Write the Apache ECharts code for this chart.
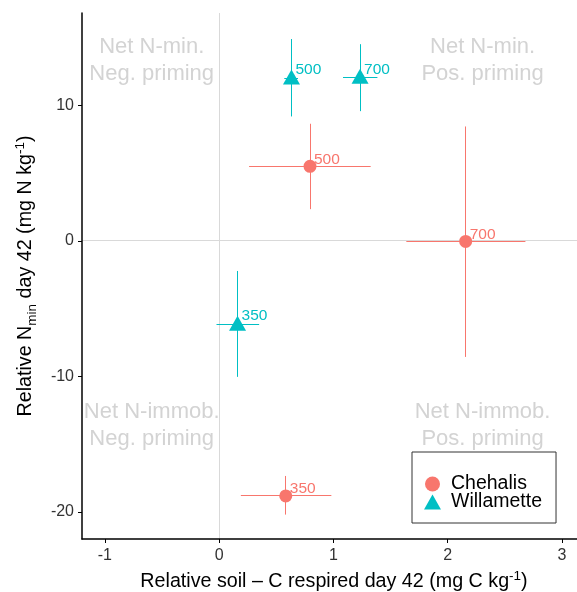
<!DOCTYPE html>
<html>
<head>
<meta charset="utf-8">
<title>Relative N-min vs soil C respired</title>
<script src="https://cdn.jsdelivr.net/npm/echarts@6/dist/echarts.min.js"></script>
<style>
  html, body { margin: 0; padding: 0; background: #fff; }
  #main { width: 577px; height: 592px; }
</style>
</head>
<body>
<div id="main"></div>
<script>
// temperature levels shown next to each point
var levels = ['350', '500', '700'];

// Chehalis soil
var chehalisX = [0.583, 0.795, 2.157];
var chehalisY = [-18.82, 5.49, -0.05];
var chehalisXLo = [0.19, 0.262, 1.638];
var chehalisXHi = [0.982, 1.326, 2.68];
var chehalisYLo = [-20.2, 2.33, -8.57];
var chehalisYHi = [-17.35, 8.63, 8.43];

// Willamette soil
var willametteX = [0.161, 0.633, 1.233];
var willametteY = [-6.15, 12.0, 12.06];
var willametteXLo = [-0.023, 0.57, 1.084];
var willametteXHi = [0.35, 0.69, 1.385];
var willametteYLo = [-10.04, 9.17, 9.56];
var willametteYHi = [-2.23, 14.88, 14.5];

// axis ticks
var xTicks = [-1, 0, 1, 2, 3];
var yTicks = [-20, -10, 0, 10];

// quadrant notes
var quadText = ['Net N-min.\nNeg. priming', 'Net N-min.\nPos. priming',
                'Net N-immob.\nNeg. priming', 'Net N-immob.\nPos. priming'];
var quadX = [-0.59, 2.305, -0.59, 2.305];
var quadY = [13.32, 13.32, -13.66, -13.66];

var RED = '#F8766D';
var CYAN = '#00BFC4';
var FONT = '"Liberation Sans", Arial, sans-serif';

function errRows(x, y, xlo, xhi, ylo, yhi) {
    return x.map(function (v, i) { return [v, y[i], xlo[i], xhi[i], ylo[i], yhi[i]]; });
}

function points(x, y) {
    return x.map(function (v, i) { return [v, y[i], levels[i]]; });
}

// keep 1px lines on the pixel grid so they stay crisp
function snap(v) { return Math.round(v - 0.5) + 0.5; }

// cross-shaped error bars, no caps
function renderErr(color) {
    return function (params, api) {
        var c = api.coord([api.value(0), api.value(1)]);
        var l = api.coord([api.value(2), api.value(1)]);
        var r = api.coord([api.value(3), api.value(1)]);
        var b = api.coord([api.value(0), api.value(4)]);
        var t = api.coord([api.value(0), api.value(5)]);
        var cx = snap(c[0]), cy = snap(c[1]);
        var style = { stroke: color, lineWidth: 1, fill: null };
        return {
            type: 'group',
            children: [
                { type: 'line', shape: { x1: l[0], y1: cy, x2: r[0], y2: cy }, style: style },
                { type: 'line', shape: { x1: cx, y1: b[1], x2: cx, y2: t[1] }, style: style }
            ]
        };
    };
}

// grey x = 0 / y = 0 reference lines across the panel
function renderZero(params, api) {
    var cs = params.coordSys;
    var o = api.coord([api.value(0), api.value(1)]);
    var ox = snap(o[0]), oy = snap(o[1]);
    var style = { stroke: '#D9D9D9', lineWidth: 1, fill: null };
    return {
        type: 'group',
        children: [
            { type: 'line', shape: { x1: ox, y1: cs.y, x2: ox, y2: cs.y + cs.height }, style: style },
            { type: 'line', shape: { x1: cs.x, y1: oy, x2: cs.x + cs.width, y2: oy }, style: style }
        ]
    };
}

var chart = echarts.init(document.getElementById('main'));

var titleRich = {
    sub: { fontSize: 13.5, lineHeight: 13, verticalAlign: 'bottom', color: '#000', fontFamily: FONT },
    sup: { fontSize: 13.5, lineHeight: 13, verticalAlign: 'top', color: '#000', fontFamily: FONT }
};

var option = {
    animation: false,
    // panel runs a little past the right edge of the picture (cropped original)
    grid: { left: 82, top: 13, bottom: 53, right: -9, outerBoundsMode: 'none', containLabel: false },
    xAxis: {
        type: 'value',
        min: -1.2,
        max: 3.21,
        name: 'Relative soil \u2013 C respired day 42 (mg C kg{sup|-1})',
        nameLocation: 'middle',
        nameGap: 30,
        nameTextStyle: { fontSize: 19.7, lineHeight: 26, color: '#000', fontFamily: FONT, rich: titleRich },
        axisLine: { onZero: false, lineStyle: { color: '#000', width: 1.5 } },
        axisTick: { length: 4, lineStyle: { color: '#000' }, customValues: xTicks },
        axisLabel: { fontSize: 16, color: '#333', margin: 9, fontFamily: FONT, customValues: xTicks },
        splitLine: { show: false }
    },
    yAxis: {
        type: 'value',
        min: -22,
        max: 16.8,
        name: 'Relative N{sub|min} day 42 (mg N kg{sup|-1})',
        nameLocation: 'middle',
        nameGap: 43,
        nameTextStyle: { fontSize: 19.7, lineHeight: 26, color: '#000', fontFamily: FONT, rich: titleRich },
        axisLine: { onZero: false, lineStyle: { color: '#000', width: 1.5 } },
        axisTick: { length: 4, lineStyle: { color: '#000' }, customValues: yTicks },
        axisLabel: { fontSize: 16, color: '#333', margin: 8, fontFamily: FONT, customValues: yTicks },
        splitLine: { show: false }
    },
    legend: {
        data: [{ name: 'Chehalis', icon: 'circle' }, { name: 'Willamette', icon: 'triangle' }],
        orient: 'vertical',
        left: 412,
        top: 452,
        padding: [22, 14, 11, 12],
        itemWidth: 17,
        itemHeight: 15,
        itemGap: -2,
        backgroundColor: '#fff',
        borderColor: '#333',
        borderWidth: 1,
        borderRadius: 0,
        textStyle: { fontSize: 19.5, lineHeight: 17, color: '#000', fontFamily: FONT, padding: [0, 0, 0, 5] }
    },
    series: [
        {
            name: 'zero',
            type: 'custom',
            z: 0,
            silent: true,
            renderItem: renderZero,
            data: [[0, 0]]
        },
        {
            name: 'notes',
            type: 'scatter',
            z: 1,
            silent: true,
            symbolSize: 1,
            itemStyle: { color: 'rgba(0,0,0,0)' },
            data: quadX.map(function (v, i) { return [v, quadY[i], quadText[i]]; }),
            label: {
                show: true,
                position: 'inside',
                formatter: function (p) { return p.data[2]; },
                fontSize: 22,
                lineHeight: 27,
                color: '#C8C8C8',
                fontFamily: FONT,
                align: 'center'
            }
        },
        {
            name: 'Chehalis',
            type: 'custom',
            z: 2,
            silent: true,
            itemStyle: { color: RED },
            renderItem: renderErr(RED),
            data: errRows(chehalisX, chehalisY, chehalisXLo, chehalisXHi, chehalisYLo, chehalisYHi)
        },
        {
            name: 'Willamette',
            type: 'custom',
            z: 2,
            silent: true,
            itemStyle: { color: CYAN },
            renderItem: renderErr(CYAN),
            data: errRows(willametteX, willametteY, willametteXLo, willametteXHi, willametteYLo, willametteYHi)
        },
        {
            name: 'Chehalis',
            type: 'scatter',
            z: 3,
            symbol: 'circle',
            symbolSize: 13,
            itemStyle: { color: RED, opacity: 1 },
            data: points(chehalisX, chehalisY),
            label: {
                show: true,
                position: [10.5, -0.5],
                align: 'left',
                verticalAlign: 'middle',
                formatter: function (p) { return p.data[2]; },
                fontSize: 15.5,
                color: RED,
                fontFamily: FONT
            }
        },
        {
            name: 'Willamette',
            type: 'scatter',
            z: 3,
            symbol: 'triangle',
            symbolSize: [17, 15],
            symbolOffset: [0, -1],
            itemStyle: { color: CYAN, opacity: 1 },
            data: points(willametteX, willametteY),
            label: {
                show: true,
                position: [12.5, 0.5],
                align: 'left',
                verticalAlign: 'middle',
                formatter: function (p) { return p.data[2]; },
                fontSize: 15.5,
                color: CYAN,
                fontFamily: FONT
            }
        }
    ]
};

chart.setOption(option);
</script>
</body>
</html>
